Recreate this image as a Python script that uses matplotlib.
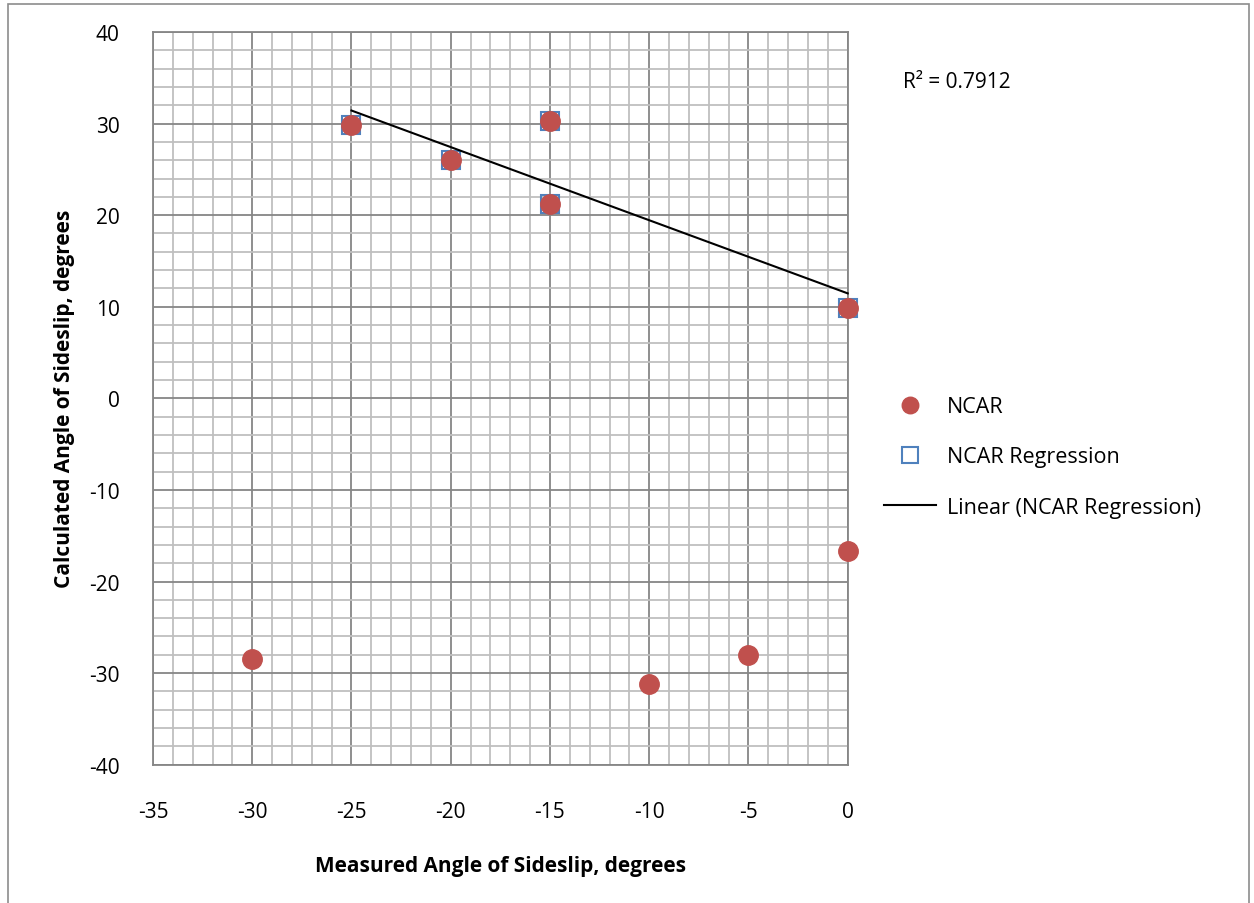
import numpy as np
import matplotlib.pyplot as plt
from matplotlib.patches import Rectangle

plt.rcParams['font.family'] = ['Open Sans', 'DejaVu Sans']
plt.rcParams['axes.unicode_minus'] = False

# NCAR data (measured vs calculated angle of sideslip)
ncar_x = [-25, -20, -15, -15, 0, -30, -10, -5, 0]
ncar_y = [29.8, 26.0, 30.3, 21.2, 9.9, -28.5, -31.2, -28.0, -16.7]

# subset used for the regression
reg_x = [-25, -20, -15, -15, 0]
reg_y = [29.8, 26.0, 30.3, 21.2, 9.9]

r2_text = 'R² = 0.7912'

fig = plt.figure(figsize=(12.54, 9.04), dpi=100)
ax = fig.add_axes([0.122, 0.153, 0.554, 0.8105])

# outer chart border
fig.patches.append(Rectangle((0.006, -0.01), 0.99, 1.004, transform=fig.transFigure,
                             fill=False, edgecolor='#8c8c8c', linewidth=1.2))

# trendline
slope, intercept = np.polyfit(reg_x, reg_y, 1)
lx = np.array([min(reg_x), max(reg_x)])
ax.plot(reg_x, reg_y, 's', markersize=13, markerfacecolor='none',
        markeredgecolor='#4F81BD', markeredgewidth=1.5, label='NCAR Regression',
        zorder=3, clip_on=False)
ax.plot(ncar_x, ncar_y, 'o', markersize=14, color='#C0504D', label='NCAR',
        zorder=4, clip_on=False)
ax.plot(lx, slope * lx + intercept, color='black', linewidth=1.5,
        label='Linear (NCAR Regression)', zorder=5, clip_on=False)

ax.set_xlim(-35, 0)
ax.set_ylim(-40, 40)
ax.set_xticks(np.arange(-35, 1, 5))
ax.set_yticks(np.arange(-40, 41, 10))
ax.set_xticks(np.arange(-35, 1, 1), minor=True)
ax.set_yticks(np.arange(-40, 41, 2), minor=True)
ax.grid(which='major', color='#868686', linewidth=1.3)
ax.grid(which='minor', color='#bfbfbf', linewidth=1.3)
ax.set_axisbelow(True)
ax.tick_params(which='both', length=0, labelsize=15, colors='black')
ax.tick_params(axis='x', pad=26)
ax.tick_params(axis='y', pad=24)
for s in ax.spines.values():
    s.set_color('#868686')
    s.set_linewidth(1.3)

ax.set_xlabel('Measured Angle of Sideslip, degrees', fontsize=15, fontweight='bold', labelpad=24)
ax.set_ylabel('Calculated Angle of Sideslip, degrees', fontsize=15, fontweight='bold', labelpad=10)

fig.text(0.72, 0.903, r2_text, fontsize=15)

handles, labels = ax.get_legend_handles_labels()
order = [1, 0, 2]
ax.legend([handles[i] for i in order], [labels[i] for i in order],
          loc='center left', bbox_to_anchor=(1.025, 0.42), frameon=False,
          fontsize=15.5, handlelength=2.4, handletextpad=0.5,
          labelspacing=1.35, markerscale=0.85)

fig.savefig('out.png', dpi=100)
